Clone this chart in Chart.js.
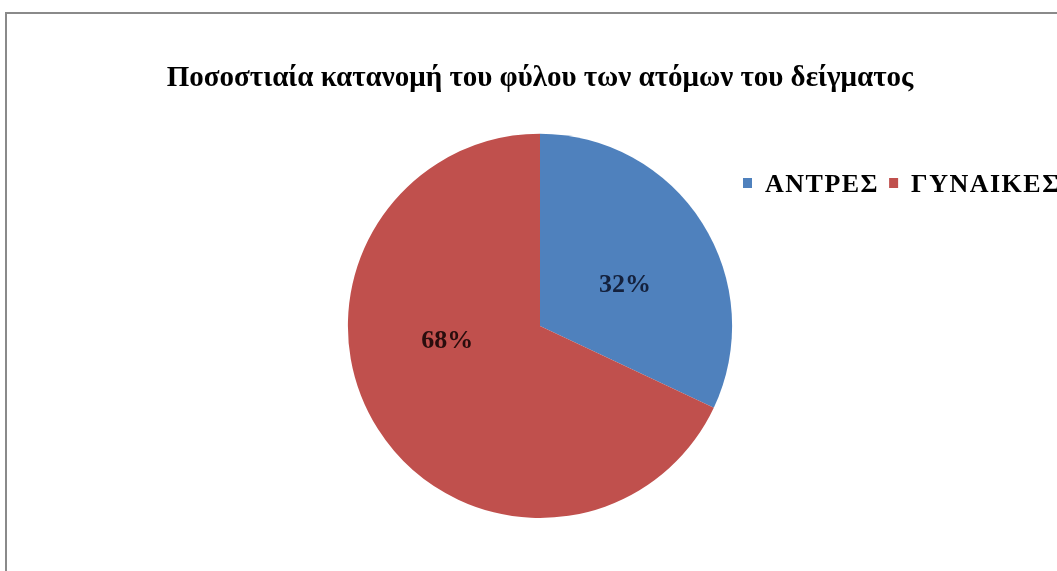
<!DOCTYPE html>
<html lang="el">
<head>
    <meta charset="UTF-8">
    <title>Ποσοστιαία κατανομή φύλου</title>
    <script src="https://cdn.jsdelivr.net/npm/chart.js@4.4.0/dist/chart.umd.min.js"></script>
    <style>
        html, body { margin: 0; padding: 0; background: #fff; overflow: hidden; }
        #box { width: 1057px; height: 571px; position: relative; }
    </style>
</head>
<body>
<div id="box"><canvas id="myChart"></canvas></div>

<script>
// data
const categories = ['ΑΝΤΡΕΣ', 'ΓΥΝΑΙΚΕΣ'];
const percents = [32, 68];
const sliceColors = ['#4f81bd', '#c0504d'];
const labelColors = ['#14213d', '#2a0d0d'];

const serif = '"Liberation Serif", "Times New Roman", serif';

// frame + background
const framePlugin = {
    id: 'frame',
    beforeDraw(chart) {
        const c = chart.ctx;
        c.save();
        c.fillStyle = '#fff';
        c.fillRect(0, 0, chart.width, chart.height);
        c.strokeStyle = '#8a8a8a';
        c.lineWidth = 2;
        c.beginPath();
        c.moveTo(6, chart.height);
        c.lineTo(6, 13);
        c.lineTo(chart.width, 13);
        c.stroke();
        c.restore();
    }
};

// percent labels in the slices + legend on the right
const labelPlugin = {
    id: 'sliceLabels',
    afterDatasetsDraw(chart) {
        const c = chart.ctx;
        const meta = chart.getDatasetMeta(0);
        const shift = [0.12, 0.4];   // excel "best fit" nudge, radians
        c.save();
        c.font = 'bold 26px ' + serif;
        c.textAlign = 'center';
        c.textBaseline = 'middle';
        meta.data.forEach((arc, i) => {
            const a = (arc.startAngle + arc.endAngle) / 2 + shift[i];
            const d = arc.outerRadius * 0.49;
            c.fillStyle = labelColors[i];
            c.fillText(percents[i] + '%', arc.x + Math.cos(a) * d, arc.y + Math.sin(a) * d);
        });

        // legend
        c.font = 'bold 26px ' + serif;
        c.letterSpacing = '1.5px';
        c.textAlign = 'left';
        let x = 743;
        const y = 183;
        categories.forEach((name, i) => {
            c.fillStyle = sliceColors[i];
            c.fillRect(x, y - 5, 9, 10);
            c.fillStyle = '#000';
            c.fillText(name, x + 22, y + 2);
            x += 22 + c.measureText(name).width + 10;
        });
        c.restore();
    }
};

const ctx = document.getElementById('myChart').getContext('2d');
const myChart = new Chart(ctx, {
    type: 'pie',
    data: {
        labels: categories,
        datasets: [{
            data: percents,
            backgroundColor: sliceColors,
            borderWidth: 0
        }]
    },
    options: {
        responsive: true,
        maintainAspectRatio: false,
        animation: false,
        layout: { padding: { top: 0, bottom: 53, left: 100, right: 77 } },
        plugins: {
            legend: { display: false },
            tooltip: { enabled: false },
            title: {
                display: true,
                text: 'Ποσοστιαία κατανομή του φύλου των ατόμων του δείγματος',
                color: '#000',
                font: { family: serif, size: 29, weight: 'bold', lineHeight: 1.2 },
                padding: { top: 61, bottom: 38 }
            }
        }
    },
    plugins: [framePlugin, labelPlugin]
});
</script>
</body>
</html>
